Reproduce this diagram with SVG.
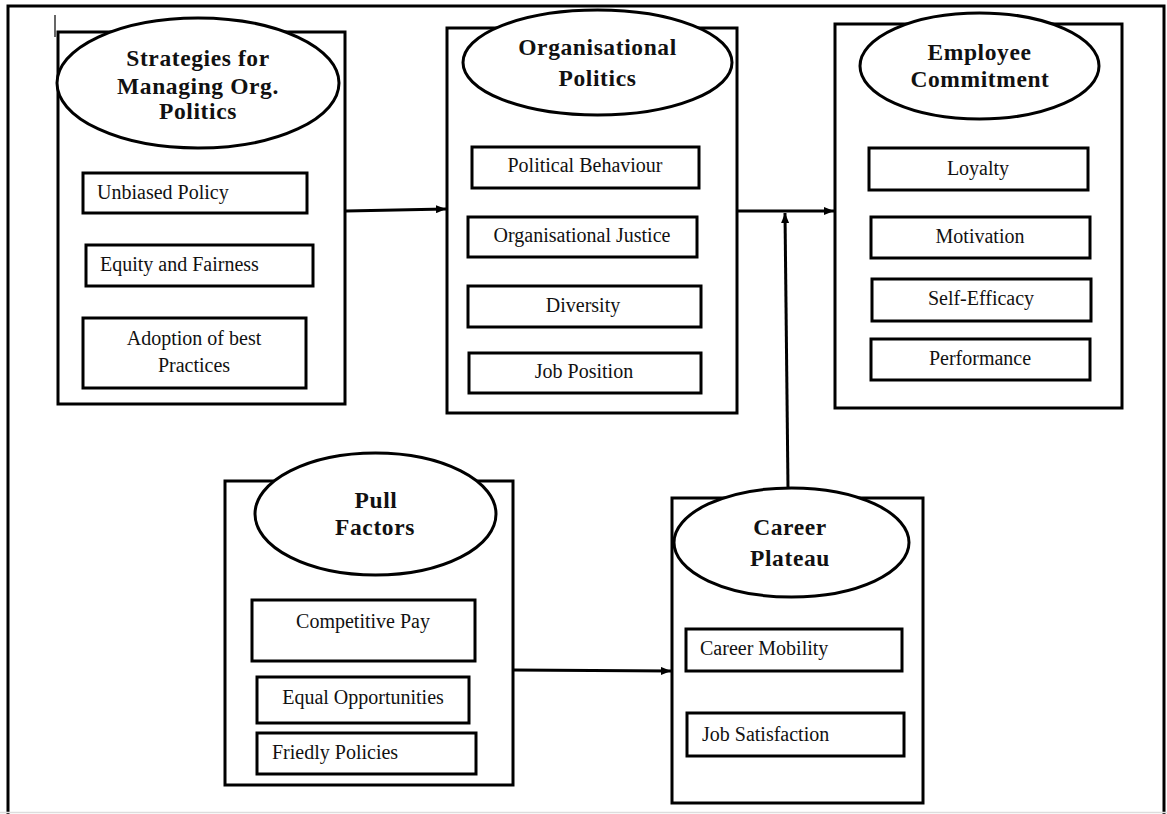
<svg xmlns="http://www.w3.org/2000/svg" width="1167" height="814" viewBox="0 0 1167 814">
  <defs>
    <marker id="arrow" markerWidth="10" markerHeight="8" refX="10" refY="4" orient="auto" markerUnits="userSpaceOnUse">
      <path d="M0,0 L10,4 L0,8 Z" fill="#000"/>
    </marker>
  </defs>
  <style>
    .frame { fill: none; stroke: #000; stroke-width: 3; }
    .box { fill: #fff; stroke: #000; stroke-width: 3; }
    .item { fill: #fff; stroke: #000; stroke-width: 3; }
    .oval { fill: #fff; stroke: #000; stroke-width: 3; }
    .head { font-family: "Liberation Serif", "Times New Roman", serif; font-weight: bold; font-size: 23.5px; letter-spacing: 0.6px; text-anchor: middle; fill: #111; }
    .label { font-family: "Liberation Serif", "Times New Roman", serif; font-size: 20px; fill: #111; }
    .mid { text-anchor: middle; }
    .conn { fill: none; stroke: #000; stroke-width: 3; }
  </style>

  <rect width="1167" height="814" fill="#fff"/>

  <!-- outer frame -->
  <path class="frame" d="M8,814 L8,6 L1164,6 L1164,814"/>
  <line x1="0" y1="812.5" x2="1167" y2="812.5" stroke="#ddd" stroke-width="1.5"/>
  <line x1="55" y1="15" x2="55" y2="37" stroke="#000" stroke-width="1.2"/>

  <!-- Strategies for Managing Org. Politics -->
  <g id="strategies">
    <rect class="box" x="58" y="32" width="287" height="372"/>
    <ellipse class="oval" cx="198" cy="83" rx="141" ry="65"/>
    <text class="head" x="198" y="66">Strategies for</text>
    <text class="head" x="198" y="94">Managing Org.</text>
    <text class="head" x="198" y="119">Politics</text>
    <rect class="item" x="83" y="173" width="224" height="40"/>
    <text class="label" x="97" y="199">Unbiased Policy</text>
    <rect class="item" x="86" y="245" width="227" height="41"/>
    <text class="label" x="100" y="271">Equity and Fairness</text>
    <rect class="item" x="83" y="318" width="223" height="70"/>
    <text class="label mid" x="194" y="345">Adoption of best</text>
    <text class="label mid" x="194" y="372">Practices</text>
  </g>

  <!-- Organisational Politics -->
  <g id="org-politics">
    <rect class="box" x="447" y="28" width="290" height="385"/>
    <ellipse class="oval" cx="597.5" cy="62.5" rx="134.5" ry="52.5"/>
    <text class="head" x="597.5" y="55">Organisational</text>
    <text class="head" x="597.5" y="86">Politics</text>
    <rect class="item" x="472" y="147" width="227" height="41"/>
    <text class="label mid" x="585" y="172">Political Behaviour</text>
    <rect class="item" x="468" y="217" width="229" height="40"/>
    <text class="label mid" x="582" y="242">Organisational Justice</text>
    <rect class="item" x="468" y="286" width="233" height="41"/>
    <text class="label mid" x="583" y="312">Diversity</text>
    <rect class="item" x="469" y="353" width="232" height="40"/>
    <text class="label mid" x="584" y="378">Job Position</text>
  </g>

  <!-- Employee Commitment -->
  <g id="employee-commitment">
    <rect class="box" x="835" y="24" width="287" height="384"/>
    <ellipse class="oval" cx="979.5" cy="66" rx="119.5" ry="53"/>
    <text class="head" x="979.5" y="60">Employee</text>
    <text class="head" x="980" y="87">Commitment</text>
    <rect class="item" x="869" y="148" width="219" height="42"/>
    <text class="label mid" x="978" y="175">Loyalty</text>
    <rect class="item" x="871" y="217" width="219" height="41"/>
    <text class="label mid" x="980" y="243">Motivation</text>
    <rect class="item" x="872" y="279" width="219" height="42"/>
    <text class="label mid" x="981" y="305">Self-Efficacy</text>
    <rect class="item" x="871" y="339" width="219" height="41"/>
    <text class="label mid" x="980" y="365">Performance</text>
  </g>

  <!-- Pull Factors -->
  <g id="pull-factors">
    <rect class="box" x="225" y="481" width="288" height="304"/>
    <ellipse class="oval" cx="375.5" cy="514" rx="120.5" ry="61"/>
    <text class="head" x="376" y="508">Pull</text>
    <text class="head" x="375" y="535">Factors</text>
    <rect class="item" x="252" y="600" width="223" height="61"/>
    <text class="label mid" x="363" y="628">Competitive Pay</text>
    <rect class="item" x="257" y="677" width="212" height="46"/>
    <text class="label mid" x="363" y="704">Equal Opportunities</text>
    <rect class="item" x="257" y="733" width="219" height="41"/>
    <text class="label" x="272" y="759">Friedly Policies</text>
  </g>

  <!-- Career Plateau -->
  <g id="career-plateau">
    <rect class="box" x="672" y="498" width="251" height="305"/>
    <ellipse class="oval" cx="791.5" cy="542.5" rx="117.5" ry="54.5"/>
    <text class="head" x="790" y="535">Career</text>
    <text class="head" x="790" y="566">Plateau</text>
    <rect class="item" x="686" y="629" width="216" height="42"/>
    <text class="label" x="700" y="655">Career Mobility</text>
    <rect class="item" x="687" y="713" width="217" height="43"/>
    <text class="label" x="702" y="741">Job Satisfaction</text>
  </g>

  <!-- connectors -->
  <g id="connectors">
    <line class="conn" x1="346" y1="211" x2="446" y2="209" marker-end="url(#arrow)"/>
    <line class="conn" x1="738" y1="211" x2="834" y2="211" marker-end="url(#arrow)"/>
    <line class="conn" x1="788" y1="488" x2="785" y2="213" marker-end="url(#arrow)"/>
    <line class="conn" x1="513" y1="670" x2="671" y2="671" marker-end="url(#arrow)"/>
  </g>
</svg>
